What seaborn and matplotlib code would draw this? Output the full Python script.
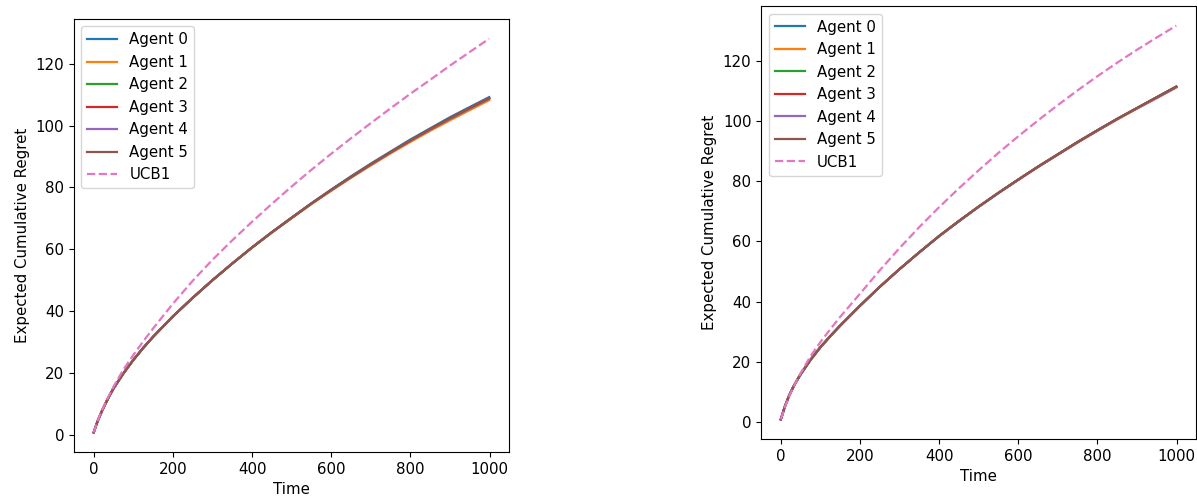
import matplotlib
matplotlib.use("Agg")
import matplotlib.pyplot as plt
import seaborn as sns

plt.rcParams["font.size"] = 10.8

time = [0, 10, 20, 30, 40, 50, 75, 100, 125, 150, 200, 250, 300, 350, 400, 450,
        500, 550, 600, 650, 700, 750, 800, 850, 900, 950, 999]

# left panel
left_agents = {
    "Agent 0": [0.8, 4.5, 7.5, 10.2, 12.7, 15.0, 19.9, 24.2, 28.1, 31.7, 38.3, 44.3, 50.0, 55.4,
                60.6, 65.5, 70.2, 74.9, 79.3, 83.6, 87.7, 91.6, 95.5, 99.1, 102.7, 106.0, 109.2],
    "Agent 1": [0.8, 4.5, 7.5, 10.2, 12.7, 15.0, 19.9, 24.2, 28.1, 31.7, 38.3, 44.3, 50.0, 55.4,
                60.5, 65.4, 70.0, 74.6, 78.9, 83.1, 87.1, 91.0, 94.7, 98.3, 101.7, 105.0, 108.2],
    "Agent 2": [0.8, 4.5, 7.5, 10.2, 12.7, 15.0, 19.9, 24.2, 28.1, 31.7, 38.3, 44.3, 50.0, 55.4,
                60.6, 65.5, 70.2, 74.8, 79.2, 83.4, 87.5, 91.4, 95.2, 98.8, 102.3, 105.6, 108.8],
    "Agent 3": [0.8, 4.5, 7.5, 10.2, 12.7, 15.0, 19.9, 24.2, 28.1, 31.7, 38.3, 44.3, 50.0, 55.4,
                60.6, 65.5, 70.2, 74.8, 79.2, 83.4, 87.5, 91.4, 95.2, 98.9, 102.4, 105.7, 108.9],
    "Agent 4": [0.8, 4.5, 7.5, 10.2, 12.7, 15.0, 19.9, 24.2, 28.1, 31.7, 38.3, 44.3, 50.0, 55.4,
                60.6, 65.5, 70.2, 74.8, 79.1, 83.3, 87.4, 91.3, 95.1, 98.7, 102.2, 105.5, 108.7],
    "Agent 5": [0.8, 4.5, 7.5, 10.2, 12.7, 15.0, 19.9, 24.2, 28.1, 31.7, 38.3, 44.3, 50.0, 55.4,
                60.6, 65.5, 70.2, 74.8, 79.2, 83.4, 87.5, 91.4, 95.2, 98.8, 102.3, 105.6, 108.8],
}
left_ucb = [0.8, 4.6, 7.7, 10.5, 13.1, 15.6, 21.1, 25.8, 30.2, 34.4, 42.4, 49.8, 56.6, 62.9,
            68.9, 74.7, 80.3, 85.7, 90.9, 95.9, 100.8, 105.6, 110.3, 114.8, 119.4, 123.8, 128.1]

# right panel
right_agents = {
    "Agent 0": [0.8, 5.0, 8.4, 11.2, 13.6, 15.8, 20.6, 24.8, 28.5, 32.0, 38.6, 44.9, 50.8, 56.4,
                61.8, 66.8, 71.6, 76.2, 80.6, 84.9, 89.0, 93.1, 97.0, 100.8, 104.4, 108.0, 111.5],
    "Agent 1": [0.8, 5.0, 8.4, 11.2, 13.6, 15.8, 20.6, 24.8, 28.5, 32.0, 38.6, 44.9, 50.8, 56.4,
                61.8, 66.8, 71.6, 76.1, 80.5, 84.8, 88.9, 92.9, 96.8, 100.6, 104.2, 107.7, 111.2],
    "Agent 2": [0.8, 5.0, 8.4, 11.2, 13.6, 15.8, 20.6, 24.8, 28.5, 32.0, 38.6, 44.9, 50.8, 56.4,
                61.8, 66.8, 71.6, 76.2, 80.6, 84.9, 89.0, 93.1, 97.0, 100.8, 104.4, 108.0, 111.5],
    "Agent 3": [0.8, 5.0, 8.4, 11.2, 13.6, 15.8, 20.6, 24.8, 28.5, 32.0, 38.6, 44.9, 50.8, 56.4,
                61.8, 66.8, 71.6, 76.2, 80.6, 84.9, 89.0, 93.1, 97.0, 100.8, 104.4, 108.0, 111.5],
    "Agent 4": [0.8, 5.0, 8.4, 11.2, 13.6, 15.8, 20.6, 24.8, 28.5, 32.0, 38.6, 44.9, 50.8, 56.4,
                61.7, 66.7, 71.5, 76.1, 80.5, 84.8, 88.9, 93.0, 96.9, 100.7, 104.3, 107.8, 111.3],
    "Agent 5": [0.8, 5.0, 8.4, 11.2, 13.6, 15.8, 20.6, 24.8, 28.5, 32.0, 38.6, 44.9, 50.8, 56.4,
                61.8, 66.8, 71.6, 76.2, 80.6, 84.9, 89.0, 93.1, 97.0, 100.8, 104.4, 108.0, 111.5],
}
right_ucb = [0.8, 4.8, 8.1, 11.0, 13.7, 16.2, 21.8, 26.5, 30.8, 34.9, 42.6, 50.4, 57.8, 64.8,
             71.4, 77.7, 83.7, 89.5, 95.0, 100.3, 105.4, 110.3, 115.0, 119.5, 123.8, 127.9, 131.8]

colors = sns.color_palette("tab10")

fig = plt.figure(figsize=(11.97, 4.96), dpi=100)
ax_left = fig.add_axes([0.0618, 0.0887, 0.3634, 0.873])
ax_right = fig.add_axes([0.6358, 0.1149, 0.3634, 0.873])

for ax, agents, ucb in [(ax_left, left_agents, left_ucb), (ax_right, right_agents, right_ucb)]:
    for i, (name, vals) in enumerate(agents.items()):
        sns.lineplot(x=time, y=vals, ax=ax, color=colors[i], label=name, linewidth=1.6)
    sns.lineplot(x=time, y=ucb, ax=ax, color=colors[6], linestyle="--", label="UCB1", linewidth=1.6)
    ax.set_xlabel("Time")
    ax.set_ylabel("Expected Cumulative Regret")
    ax.set_xticks([0, 200, 400, 600, 800, 1000])
    ax.legend(loc="upper left")

fig.savefig("out.png", dpi=100)
